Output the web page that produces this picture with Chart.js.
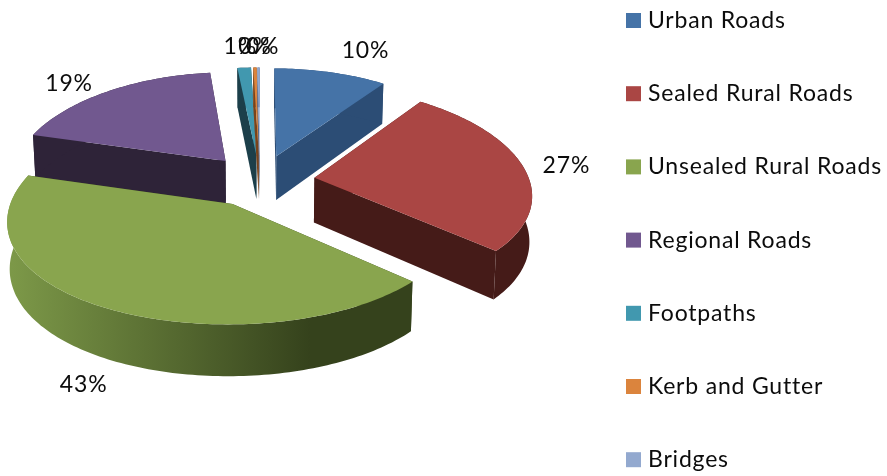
<!DOCTYPE html>
<html><head><meta charset="utf-8">
<style>html,body{margin:0;padding:0;background:#fff}#w{position:relative;width:887px;height:476px}</style>
<script src="https://cdn.jsdelivr.net/npm/chart.js@4"></script>
</head><body><div id="w"><canvas id="c" width="887" height="476"></canvas></div>
<script>
const categories = ["Urban Roads","Sealed Rural Roads","Unsealed Rural Roads","Regional Roads","Footpaths","Kerb and Gutter","Bridges"];
const shareValues = [9.9,26.8,42.7,18.9,1.2,0.3,0.2];
const topColors = ["#4573a7","#aa4644","#89a54e","#71588f","#4198af","#db843d","#93a9cf"];
const sideColors = ["#2c4d75","#451b18","#35421c","#2e2338","#1c3f4a","#7a431a","#5a6a8a"];
const rimShades = {2:["#7c9848","#35421c"]};
const paintOrder = [3,4,5,6,0,1,2];
const labelNudges = [[35,-22],[43,-1],[-21,77],[-38,-8],[-4,-21],[0,-21],[4,-21]];

const RADIUS_SCALE=1.191, EXPLODE=55, KY=0.475, QX=0.00067, QY=0.0005, DEPTH=45;
const FONT='23px Lato, Carlito, sans-serif', TEXT_SPACING='0.8px';

const pie3d={id:'pie3d',
 beforeDatasetDraw(chart){
  const ctx=chart.ctx, arcs=chart.getDatasetMeta(0).data;
  const total=shareValues.reduce((a,b)=>a+b,0);
  const proj=(a,U,V)=>({x:a.x+U/(1+QX*V), y:a.y-KY*V/(1+QY*V)});
  const down=(a,p,V)=>({x:a.x+(p.x-a.x)*0.99, y:p.y+DEPTH/(1+QY*V)});
  const shape=(a)=>{
    const r=a.outerRadius*RADIUS_SCALE, mid=(a.startAngle+a.endAngle)/2;
    const ox=Math.cos(mid)*EXPLODE, oy=-Math.sin(mid)*EXPLODE;
    const pts=[{U:ox,V:oy}];
    const n=Math.max(2,Math.ceil((a.endAngle-a.startAngle)/0.02));
    for(let i=0;i<=n;i++){const t=a.startAngle+(a.endAngle-a.startAngle)*i/n;
      pts.push({U:ox+r*Math.cos(t),V:oy-r*Math.sin(t)});}
    return {pts,ox,oy,r,mid};
  };
  const fillPoly=(poly,col)=>{ctx.beginPath();poly.forEach((p,k)=>k?ctx.lineTo(p.x,p.y):ctx.moveTo(p.x,p.y));ctx.closePath();ctx.fillStyle=col;ctx.fill();};
  paintOrder.forEach(i=>{
    const a=arcs[i], s=shape(a);
    const top=s.pts.map(p=>proj(a,p.U,p.V));
    const bot=s.pts.map((p,k)=>down(a,top[k],p.V));
    const N=top.length;
    fillPoly([top[0],top[1],bot[1],bot[0]],sideColors[i]);
    fillPoly([top[0],top[N-1],bot[N-1],bot[0]],sideColors[i]);
    let rim=sideColors[i];
    if(rimShades[i]){rim=ctx.createLinearGradient(12,0,310,0);
      rim.addColorStop(0,rimShades[i][0]);rim.addColorStop(1,rimShades[i][1]);}
    fillPoly(top.slice(1).concat(bot.slice(1).reverse()),rim);
    fillPoly(top,topColors[i]);
  });
  ctx.font=FONT;ctx.letterSpacing=TEXT_SPACING;ctx.fillStyle='#0c0c0c';ctx.textAlign='center';ctx.textBaseline='middle';
  arcs.forEach((a,i)=>{
    const s=shape(a);
    const U=s.ox+s.r*Math.cos(s.mid),V=s.oy-s.r*Math.sin(s.mid),p=proj(a,U,V);
    ctx.fillText(Math.round(shareValues[i]/total*100)+'%',p.x+labelNudges[i][0],p.y+labelNudges[i][1]);
  });
  return false;
 },
 afterDraw(chart){
  const ctx=chart.ctx;
  ctx.font=FONT;ctx.letterSpacing=TEXT_SPACING;ctx.textAlign='left';ctx.textBaseline='middle';
  categories.forEach((c,i)=>{
    const y=20.5+73.2*i;
    ctx.fillStyle=topColors[i];ctx.fillRect(626,y-7.5,15,15);
    ctx.fillStyle='#0c0c0c';ctx.fillText(c,648,y);
  });
 }
};
new Chart(document.getElementById('c'),{
 type:'pie',
 data:{labels:categories,datasets:[{data:shareValues,backgroundColor:topColors,borderWidth:0}]},
 options:{responsive:false,animation:false,
  layout:{padding:{right:367,bottom:115}},
  plugins:{legend:{display:false},tooltip:{enabled:false}}},
 plugins:[pie3d]
});
</script></body></html>
